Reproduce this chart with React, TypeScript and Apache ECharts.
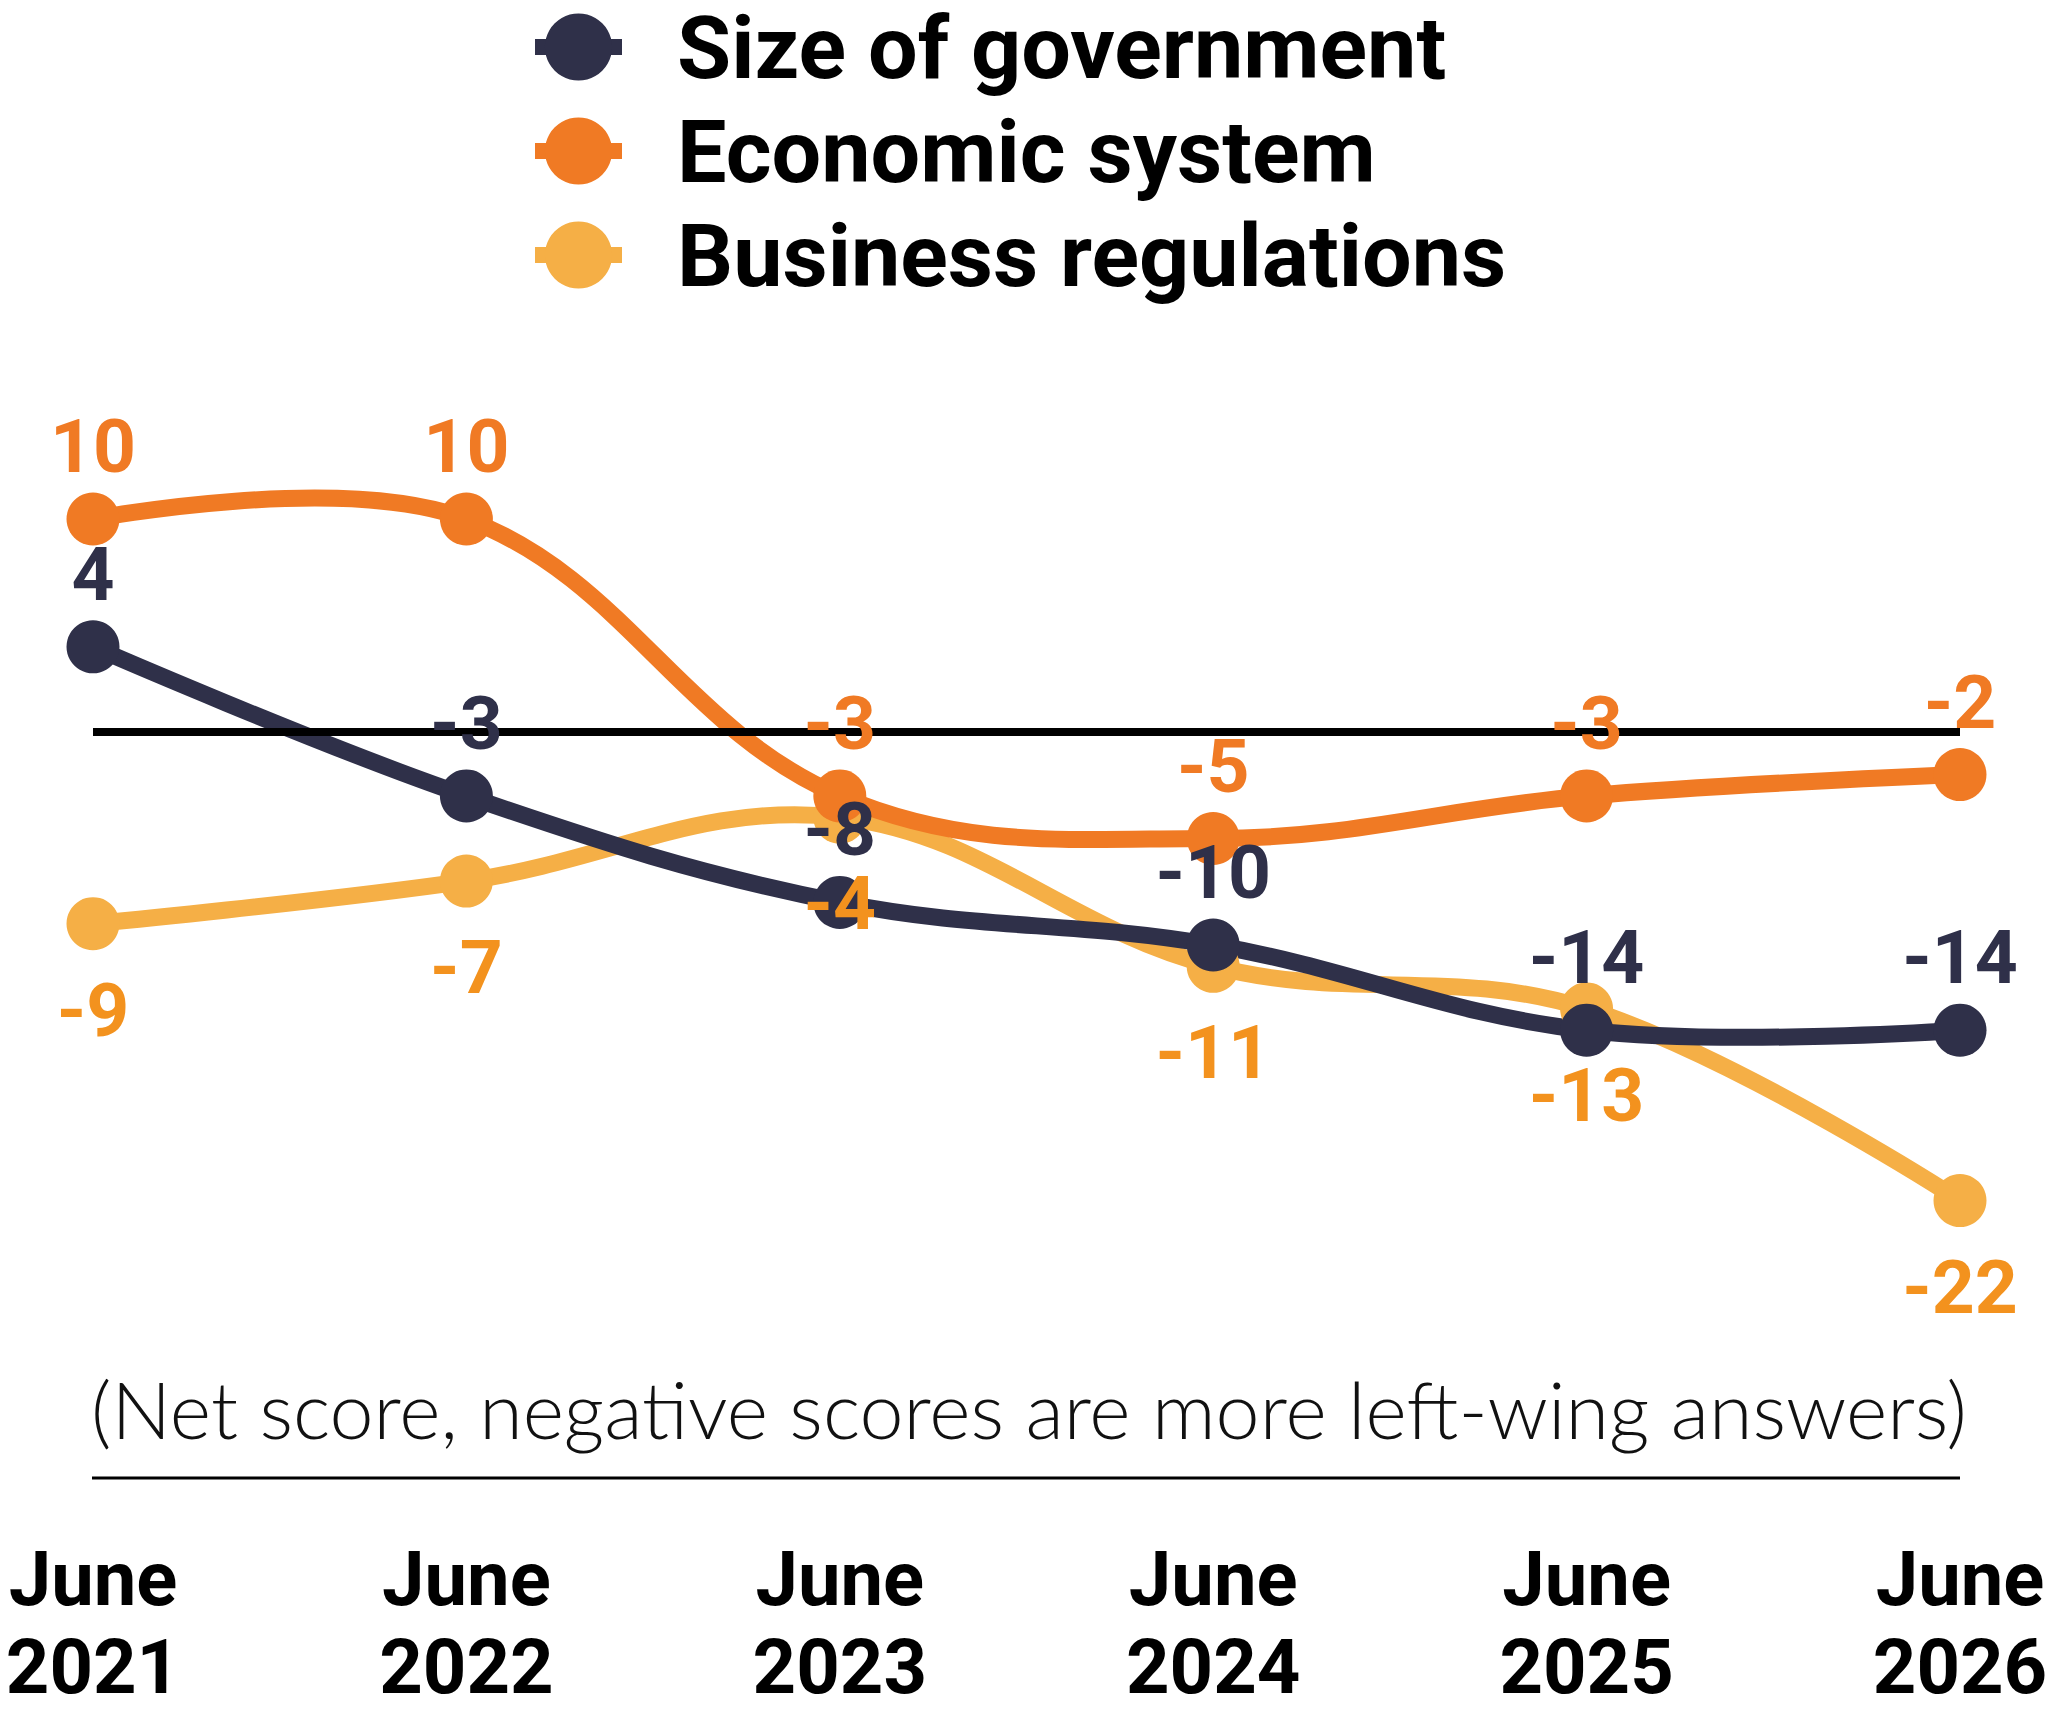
import React, { useEffect, useRef } from "react";
import * as echarts from "echarts";

const categories = ["June\n2021", "June\n2022", "June\n2023", "June\n2024", "June\n2025", "June\n2026"];
const sizeOfGovernment = [4, -3, -8, -10, -14, -14];
const economicSystem = [10, 10, -3, -5, -3, -2];
const businessRegulations = [-9, -7, -4, -11, -13, -22];
const seriesNames = ["Size of government", "Economic system", "Business regulations"];
const subtitle = "(Net score, negative scores are more left-wing answers)";

const NAVY = "#2F3049";
const ORANGE = "#F07A24";
const LIGHT = "#F5AF46";
const LIGHT_LABEL = "#F3921E";
const BOLD_FONT = "Roboto";
const LIGHT_FONT = "Lato";
const LINE_W = 17;
const SMOOTH = 0.38;

function labelStyle(color: string, position: string, distance: number) {
  return {
    show: true,
    position,
    distance,
    color,
    fontSize: 75,
    fontWeight: "bold",
    fontFamily: BOLD_FONT,
  };
}

function curveSeries(name: string, values: number[], color: string, z: number) {
  return {
    name,
    type: "custom",
    z,
    silent: true,
    clip: false,
    data: values.map((v, i) => [i, v]),
    encode: { x: 0, y: 1 },
    renderItem: (params: any, api: any) => {
      if (params.dataIndex !== 0) return null;
      const pts = values.map((v, i) => api.coord([i, v]));
      return {
        type: "polyline",
        shape: { points: pts, smooth: SMOOTH },
        style: { stroke: color, lineWidth: LINE_W, fill: "none", lineCap: "round", lineJoin: "round" },
      };
    },
  };
}

function pointSeries(name: string, values: number[], color: string, label: any, extra: any = {}) {
  return {
    name,
    type: "line",
    data: values,
    z: 5,
    symbol: "circle",
    symbolSize: 53,
    lineStyle: { color, width: LINE_W, opacity: 0 },
    itemStyle: { color },
    label,
    ...extra,
  };
}

export default function App() {
  const ref = useRef<HTMLDivElement>(null);

  useEffect(() => {
    if (!ref.current) return;
    const chart = echarts.init(ref.current, null, { renderer: "svg" });
    const option: any = {
      animation: false,
      backgroundColor: "#ffffff",
      legend: {
        data: seriesNames,
        orient: "vertical",
        left: 527,
        top: 3,
        padding: 0,
        itemWidth: 87,
        itemHeight: 84,
        itemGap: 16,
        selectedMode: false,
        lineStyle: { width: 16, cap: "butt", opacity: 1 },
        textStyle: {
          fontSize: 88,
          fontWeight: "bold",
          fontFamily: BOLD_FONT,
          color: "#000000",
          lineHeight: 84,
          padding: [0, 0, 0, 50],
        },
      },
      grid: {
        left: 93,
        right: 89,
        top: 306,
        bottom: 343,
        containLabel: false,
        outerBoundsMode: "none",
      },
      xAxis: {
        type: "category",
        data: categories,
        boundaryGap: false,
        axisLine: { show: false, onZero: false },
        axisTick: { show: false },
        splitLine: { show: false },
        axisLabel: {
          color: "#000000",
          fontSize: 76,
          fontWeight: "bold",
          fontFamily: BOLD_FONT,
          lineHeight: 88,
          margin: 164,
          interval: 0,
        },
      },
      yAxis: {
        type: "value",
        min: -30,
        max: 20,
        show: false,
        splitLine: { show: false },
      },
      series: [
        curveSeries("curve-business", businessRegulations, LIGHT, 2),
        curveSeries("curve-economic", economicSystem, ORANGE, 3),
        curveSeries("curve-size", sizeOfGovernment, NAVY, 4),
        pointSeries(seriesNames[2], businessRegulations, LIGHT, labelStyle(LIGHT_LABEL, "bottom", 22)),
        pointSeries(seriesNames[1], economicSystem, ORANGE, labelStyle(ORANGE, "top", 9)),
        pointSeries(seriesNames[0], sizeOfGovernment, NAVY, labelStyle(NAVY, "top", 9), {
          markLine: {
            silent: true,
            symbol: "none",
            label: { show: false },
            lineStyle: { color: "#000000", width: 8, type: "solid", opacity: 1 },
            data: [{ yAxis: 0 }],
          },
        }),
      ],
      graphic: [
        {
          type: "text",
          style: {
            text: subtitle,
            x: 1029,
            y: 1408,
            align: "center",
            verticalAlign: "middle",
            fontSize: 79,
            fontWeight: 300,
            fontFamily: LIGHT_FONT,
            fill: "#111111",
          },
        },
        {
          type: "line",
          shape: { x1: 92, y1: 1478, x2: 1960, y2: 1478 },
          style: { stroke: "#000000", lineWidth: 3 },
        },
      ],
    };
    chart.setOption(option);
    return () => chart.dispose();
  }, []);

  return (
    <div
      ref={ref}
      style={{ position: "absolute", left: 0, top: 0, width: 2049, height: 1714 }}
    />
  );
}
